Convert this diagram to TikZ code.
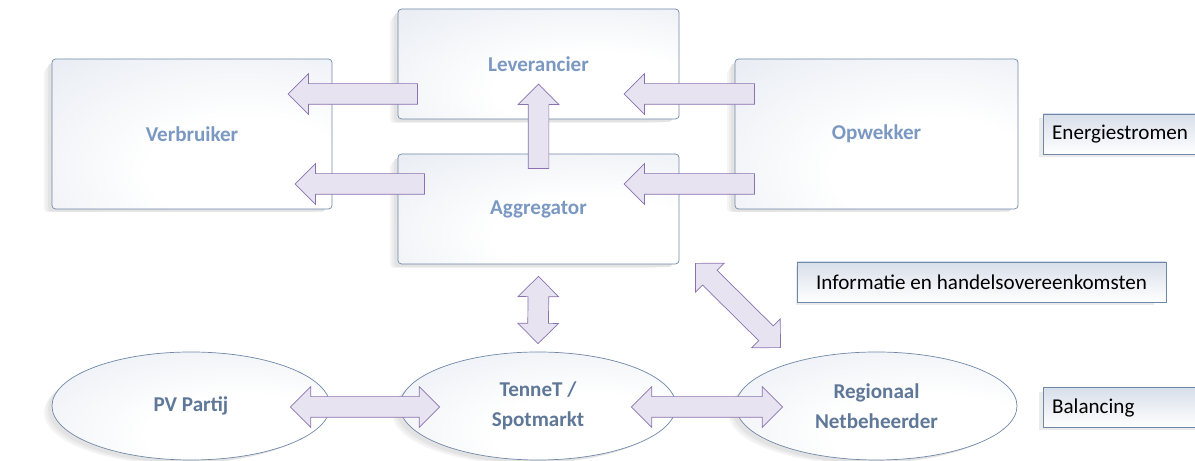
\documentclass[tikz,border=0pt]{standalone}
\usepackage{fontspec}
\setmainfont{Carlito}
\usetikzlibrary{calc}
\usetikzlibrary{shapes.geometric}
\usetikzlibrary{shapes.arrows}
\usetikzlibrary{shadows}

\definecolor{boxline}{HTML}{7088A8}
\definecolor{boxtop}{HTML}{D8DFEA}
\definecolor{lbltext}{HTML}{7B98C2}
\definecolor{darktext}{HTML}{5F7898}
\definecolor{arrowline}{HTML}{8A72B0}
\definecolor{arrowfill}{HTML}{E7E3F0}

% light in the lower right, blue-grey towards the upper left
\pgfdeclareradialshading{softbox}{\pgfpoint{12bp}{-15bp}}{color(0bp)=(white); color(18bp)=(white); color(68bp)=(boxtop); color(110bp)=(boxtop)}

\tikzset{
	soft shadow/.style={
		drop shadow={shadow xshift=-9pt, shadow yshift=-4pt, shadow scale=0.95, fill=black!4, opacity=1},
		drop shadow={shadow xshift=-6pt, shadow yshift=-3pt, shadow scale=0.97, fill=black!7, opacity=1},
		drop shadow={shadow xshift=-3pt, shadow yshift=-2pt, shadow scale=0.99, fill=black!11, opacity=1}},
	party/.style={draw=boxline, rounded corners=2pt, shade, shading=softbox, soft shadow,
		minimum width=5.62cm, minimum height=2.2cm,
		font=\fontsize{12}{14}\selectfont\bfseries, text=lbltext},
	market/.style={ellipse, draw=boxline, shade, shading=softbox, soft shadow,
		minimum width=5.56cm, minimum height=2.16cm, align=center,
		font=\fontsize{12}{17}\selectfont\bfseries, text=darktext},
	legend/.style={draw=boxline, top color=boxtop, bottom color=white,
		minimum height=0.8cm, inner xsep=5pt, font=\fontsize{12}{14}\selectfont,
		drop shadow={shadow xshift=-4pt, shadow yshift=-2pt, shadow scale=0.97, fill=black!8, opacity=1}},
	flow/.style={single arrow, draw=arrowline, fill=arrowfill, inner xsep=0pt, inner ysep=0.2cm,
		minimum width=0.8cm, single arrow head extend=0.2cm, allow upside down},
	swap/.style={double arrow, draw=arrowline, fill=arrowfill, inner xsep=0pt, inner ysep=0.2cm,
		minimum width=0.8cm, double arrow head extend=0.2cm, allow upside down}
}

% block arrow from #2 to #3
\newcommand{\blockarrow}[3]{%
	\path let \p1=($(#3)-(#2)$), \n1={veclen(\x1,\y1)} in
		(#2) -- (#3) node[#1, midway, sloped, minimum height=\n1] {};}

\begin{document}
\begin{tikzpicture}
	\useasboundingbox (0,0) rectangle (23.9,9.22);

	% actors
	\node[party, minimum width=5.6cm, minimum height=3cm] (verb) at (3.84,6.54) {Verbruiker};
	\node[party] (lev) at (10.77,7.94) {Leverancier};
	\node[party] (agg) at (10.77,5.04) {Aggregator};
	\node[party, minimum width=5.66cm, minimum height=3cm] (opw) at (17.53,6.54) {Opwekker};

	% balancing
	\node[market] (pv) at (3.82,1.1) {PV Partij};
	\node[market, minimum width=5.52cm] (ten) at (10.76,1.1) {TenneT /\\Spotmarkt};
	\node[market, minimum width=5.62cm] (reg) at (17.53,1.1) {Regionaal\\Netbeheerder};

	% legend
	\node[legend, anchor=west, text width=2.95cm] (energie) at (20.86,6.54) {Energiestromen};
	\node[legend, minimum width=7.38cm] (info) at (19.63,3.58) {Informatie en handelsovereenkomsten};
	\node[legend, anchor=west, text width=2.95cm] (bal) at (20.86,1.07) {Balancing};

	% energy flows
	\coordinate (lev out) at ($(lev.west)+(0.5,-0.6)$);
	\coordinate (verb in1) at ($(verb.east)+(-0.78,0.8)$);
	\coordinate (agg out) at ($(agg.west)+(0.64,0.5)$);
	\coordinate (verb in2) at ($(verb.east)+(-0.64,-1)$);
	\coordinate (agg up) at ($(agg.north)+(0,-0.4)$);
	\coordinate (lev in) at ($(lev.south)+(0,0.6)$);
	\coordinate (opw out1) at ($(opw.west)+(0.5,0.8)$);
	\coordinate (lev in2) at ($(lev.east)+(-1,-0.6)$);
	\coordinate (opw out2) at ($(opw.west)+(0.5,-1)$);
	\coordinate (agg in) at ($(agg.east)+(-1,0.5)$);
	\blockarrow{flow}{lev out}{verb in1}
	\blockarrow{flow}{agg out}{verb in2}
	\blockarrow{flow}{agg up}{lev in}
	\blockarrow{flow}{opw out1}{lev in2}
	\blockarrow{flow}{opw out2}{agg in}

	% information and trade
	\coordinate (agg low) at ($(agg.south)+(0,-0.24)$);
	\coordinate (ten top) at ($(ten.north)+(0,0.16)$);
	\coordinate (agg corner) at ($(agg.south east)+(0.32,0.02)$);
	\coordinate (reg top) at ($(reg.north)+(-1.92,0.08)$);
	\coordinate (pv right) at ($(pv.east)+(-0.8,-0.02)$);
	\coordinate (ten left) at ($(ten.west)+(0.8,-0.02)$);
	\coordinate (ten right) at ($(ten.east)+(-0.9,-0.02)$);
	\coordinate (reg left) at ($(reg.west)+(0.94,-0.02)$);
	\blockarrow{swap}{agg low}{ten top}
	\blockarrow{swap}{agg corner}{reg top}
	\blockarrow{swap}{pv right}{ten left}
	\blockarrow{swap}{ten right}{reg left}
\end{tikzpicture}
\end{document}
